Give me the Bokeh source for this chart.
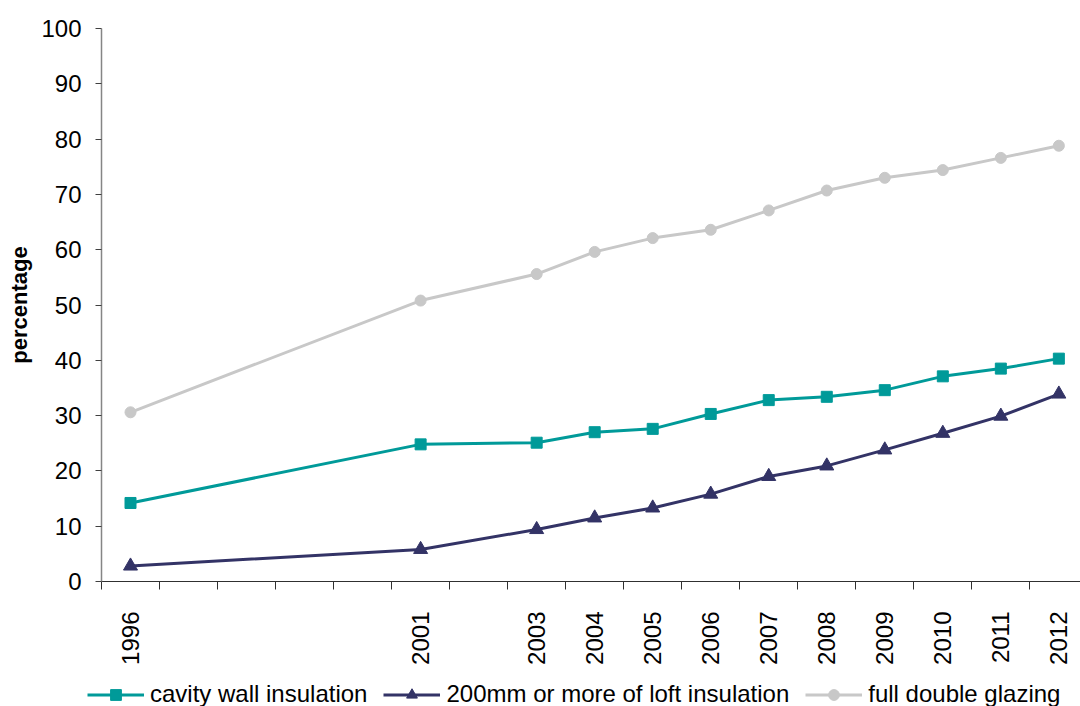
import math

from bokeh.plotting import figure
from bokeh.layouts import column, row
from bokeh.models import Range1d, FixedTicker, Legend, LegendItem
from bokeh.embed import file_html
from bokeh.resources import INLINE

# Survey years and share of dwellings (%) with each energy-efficiency measure
years = [1996, 2001, 2003, 2004, 2005, 2006, 2007, 2008, 2009, 2010, 2011, 2012]
cavity_wall = [14.2, 24.8, 25.1, 27.0, 27.6, 30.3, 32.8, 33.4, 34.6, 37.1, 38.5, 40.3]
loft_200mm = [2.8, 5.8, 9.4, 11.5, 13.3, 15.8, 19.0, 20.9, 23.8, 26.8, 29.9, 33.9]
double_glazing = [30.6, 50.8, 55.6, 59.6, 62.1, 63.6, 67.1, 70.7, 73.0, 74.4, 76.6, 78.8]

series_names = ["cavity wall insulation", "200mm or more of loft insulation", "full double glazing"]
y_ticks = [0, 10, 20, 30, 40, 50, 60, 70, 80, 90, 100]

FONT = "Liberation Sans"
TEAL = "#009a99"
NAVY = "#333366"
GREY = "#c8c8c8"

specs = [
    (cavity_wall, TEAL, "square", 11),
    (loft_200mm, NAVY, "triangle", 14),
    (double_glazing, GREY, "circle", 11),
]

LEGEND_H = 30

p = figure(
    width=1080, height=706 - LEGEND_H,
    output_backend="svg", toolbar_location=None,
    x_range=Range1d(1995.5, 2012.373), y_range=Range1d(0, 100),
    min_border_left=101, min_border_right=0, min_border_top=28,
    min_border_bottom=125 - LEGEND_H,
)
p.outline_line_color = None
p.xgrid.visible = False
p.ygrid.visible = False
p.background_fill_color = "white"
p.border_fill_color = "white"

# x axis: one slot per year, tick marks on slot boundaries, labels only for survey years
p.xaxis.ticker = FixedTicker(ticks=years, minor_ticks=[1995.5 + i for i in range(18)])
p.xaxis.major_tick_out = 0
p.xaxis.major_tick_in = 0
p.xaxis.minor_tick_out = 8
p.xaxis.minor_tick_in = 0
p.xaxis.minor_tick_line_color = "#303030"
p.xaxis.axis_line_color = "#303030"
p.xaxis.major_label_orientation = math.pi / 2
p.xaxis.major_label_standoff = 22
p.xaxis.major_label_text_font = FONT
p.xaxis.major_label_text_font_size = "24px"
p.xaxis.major_label_text_color = "black"

# y axis
p.yaxis.ticker = FixedTicker(ticks=y_ticks)
p.yaxis.minor_tick_line_color = None
p.yaxis.major_tick_out = 6
p.yaxis.major_tick_in = 0
p.yaxis.major_tick_line_color = "#404040"
p.yaxis.axis_line_color = "#858585"
p.yaxis.axis_line_width = 1.5
p.yaxis.major_label_standoff = 14
p.yaxis.major_label_text_font = FONT
p.yaxis.major_label_text_font_size = "24px"
p.yaxis.major_label_text_color = "black"
p.yaxis.axis_label = "percentage"
p.yaxis.axis_label_text_font = FONT
p.yaxis.axis_label_text_font_style = "bold"
p.yaxis.axis_label_text_font_size = "22px"
p.yaxis.axis_label_text_color = "black"
p.yaxis.axis_label_standoff = 6

for vals, color, marker, size in specs:
    p.line(years, vals, line_color=color, line_width=3)
    p.scatter(years, vals, marker=marker, size=size, fill_color=color, line_color=color)

# legend strip underneath the chart, using the same line and marker styles
leg = figure(
    width=1080, height=LEGEND_H,
    output_backend="svg", toolbar_location=None,
    x_range=Range1d(0, 1), y_range=Range1d(0, 1), min_border=0,
    min_border_left=0, min_border_right=0,
)
leg.outline_line_color = None
leg.axis.visible = False
leg.grid.visible = False

items = []
for name, (vals, color, marker, size) in zip(series_names, specs):
    ln = leg.line(years, vals, line_color=color, line_width=3, visible=False)
    sc = leg.scatter(years, vals, marker=marker, size=size, fill_color=color,
                     line_color=color, visible=False)
    items.append(LegendItem(label=name, renderers=[ln, sc]))

legend = Legend(
    items=items, orientation="horizontal", location=(87, -2),
    glyph_width=57, glyph_height=27, label_standoff=6, spacing=16,
    padding=0, margin=0, border_line_color=None, background_fill_alpha=0,
    label_text_font=FONT, label_text_font_size="24px", label_text_color="black",
    label_height=22,
)
leg.add_layout(legend, "center")

layout = column(p, row(leg), spacing=0)
open("out.html", "w").write(file_html(layout, INLINE))
